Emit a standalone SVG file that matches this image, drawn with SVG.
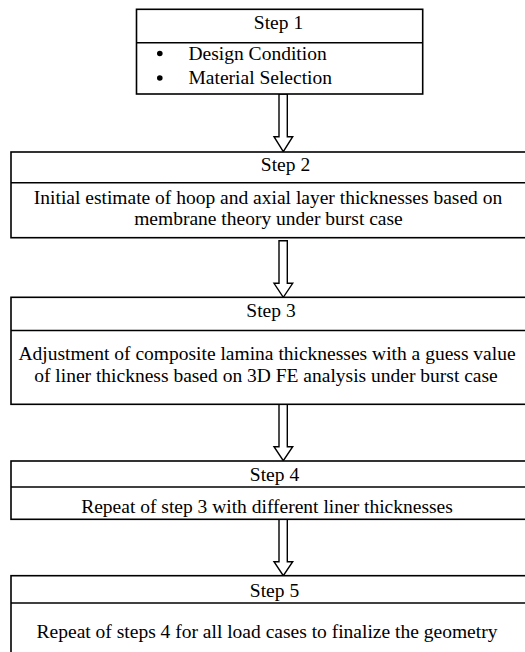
<svg xmlns="http://www.w3.org/2000/svg" width="525" height="652" viewBox="0 0 525 652">
<style>
  .box { fill: #ffffff; stroke: #000000; stroke-width: 1.6; }
  .div { stroke: #000000; stroke-width: 1.6; }
  .t { font-family: "Liberation Serif", "Times New Roman", serif; font-size: 19.5px; fill: #000000; }
  .c { text-anchor: middle; }
  .arrow { fill: #ffffff; stroke: #000000; stroke-width: 1.4; stroke-linejoin: miter; }
</style>
<rect width="525" height="652" fill="#ffffff"/>
<g id="connectors">
  <polygon class="arrow" points="279,94 287.3,94 287.3,136.7 292.7,136.7 283.3,151.7 274,136.7 279,136.7"/>
  <polygon class="arrow" points="279,240.7 287.3,240.7 287.3,283.3 292.7,283.3 283.3,297.3 274,283.3 279,283.3"/>
  <polygon class="arrow" points="279,404.3 287.3,404.3 287.3,446.7 292.7,446.7 283.3,460.7 274,446.7 279,446.7"/>
  <polygon class="arrow" points="279,519.3 287.3,519.3 287.3,561.7 292.7,561.7 283.3,575.7 274,561.7 279,561.7"/>
</g>
<g id="step1">
  <rect class="box" x="136.5" y="9.3" width="286.2" height="84.7"/>
  <line class="div" x1="136.5" y1="42.7" x2="422.7" y2="42.7"/>
  <text class="t c" x="278.5" y="28.7">Step 1</text>
  <circle cx="159.8" cy="53.5" r="2.8" fill="#000000"/>
  <circle cx="159.8" cy="78" r="2.8" fill="#000000"/>
  <text class="t" x="188.5" y="60">Design Condition</text>
  <text class="t" x="188.5" y="83.5">Material Selection</text>
</g>
<g id="step2">
  <rect class="box" x="11" y="152" width="560" height="85.7"/>
  <line class="div" x1="11" y1="182.7" x2="571" y2="182.7"/>
  <text class="t c" x="285.5" y="170.7">Step 2</text>
  <text class="t c" x="268" y="204">Initial estimate of hoop and axial layer thicknesses based on</text>
  <text class="t c" x="268.5" y="225">membrane theory under burst case</text>
</g>
<g id="step3">
  <rect class="box" x="11" y="297.3" width="560" height="107"/>
  <line class="div" x1="11" y1="330.5" x2="571" y2="330.5"/>
  <text class="t c" x="271" y="316.5">Step 3</text>
  <text class="t c" x="267" y="359.6">Adjustment of composite lamina thicknesses with a guess value</text>
  <text class="t c" x="266" y="381.6">of liner thickness based on 3D FE analysis under burst case</text>
</g>
<g id="step4">
  <rect class="box" x="11" y="461" width="560" height="58.3"/>
  <line class="div" x1="11" y1="487" x2="571" y2="487"/>
  <text class="t c" x="274.5" y="480.9">Step 4</text>
  <text class="t c" x="267" y="513.3">Repeat of step 3 with different liner thicknesses</text>
</g>
<g id="step5">
  <rect class="box" x="11" y="575.7" width="560" height="100"/>
  <line class="div" x1="11" y1="603" x2="571" y2="603"/>
  <text class="t c" x="274.5" y="597">Step 5</text>
  <text class="t c" x="267" y="637.5">Repeat of steps 4 for all load cases to finalize the geometry</text>
</g>
</svg>
